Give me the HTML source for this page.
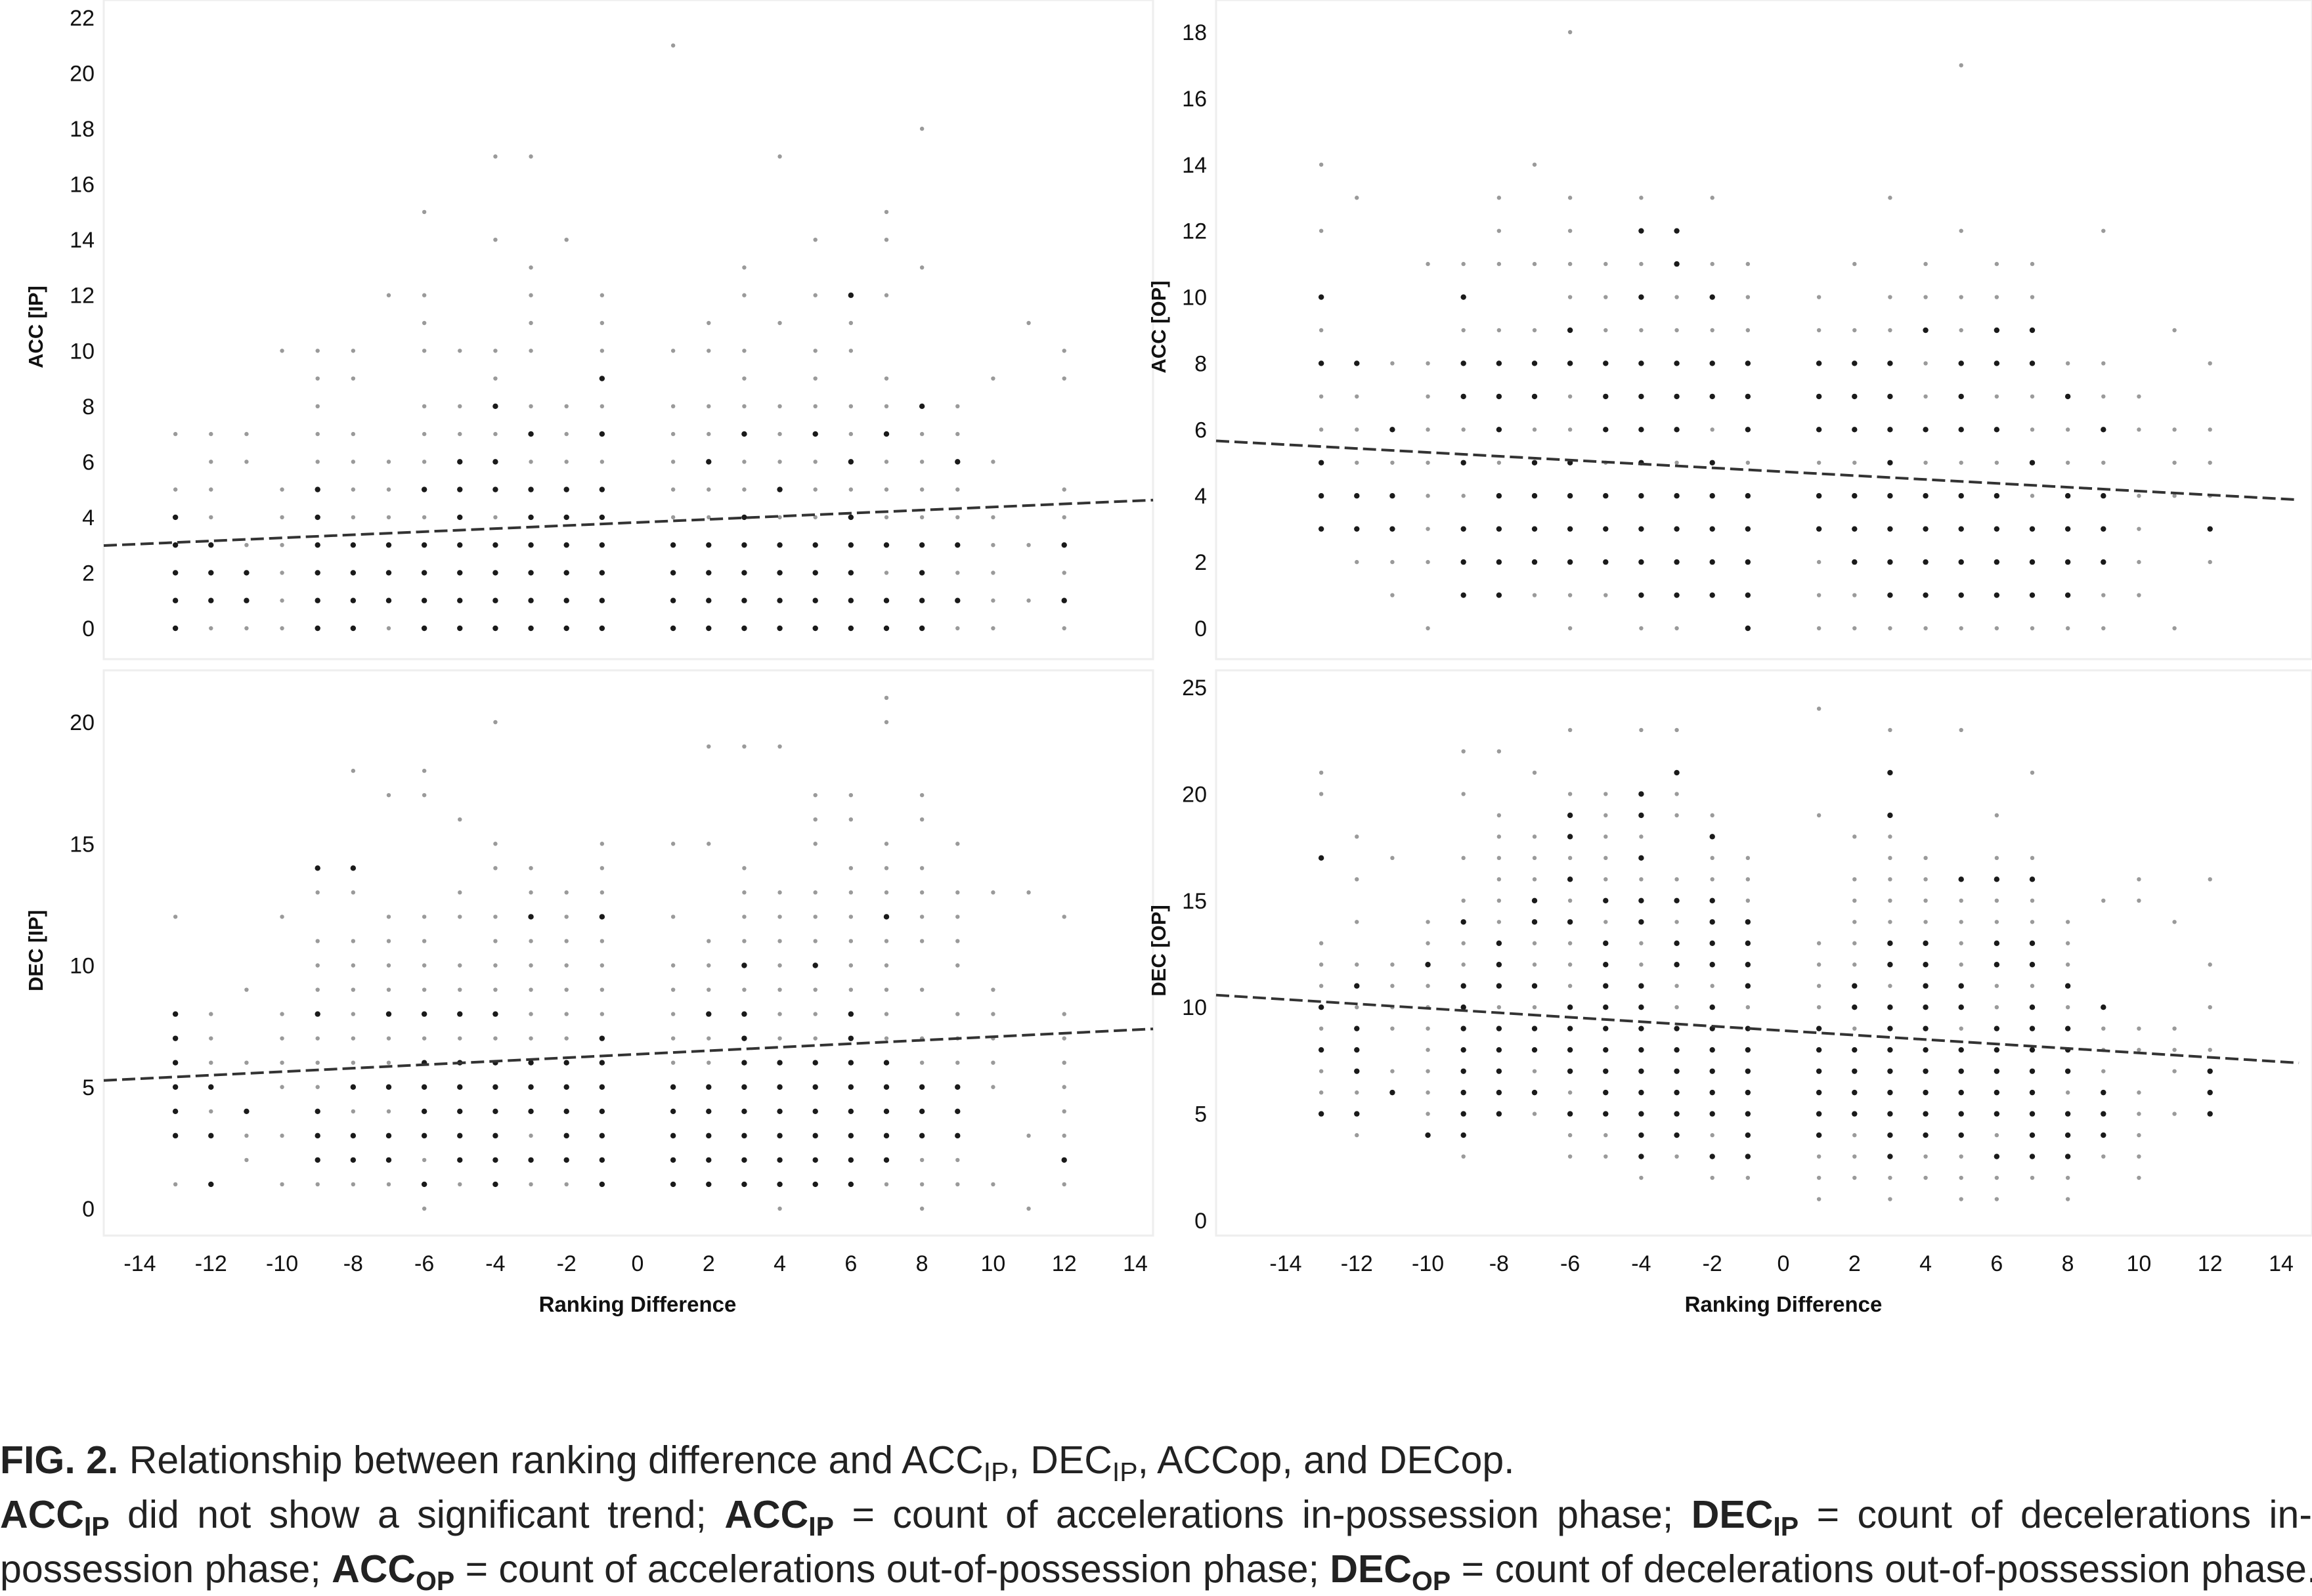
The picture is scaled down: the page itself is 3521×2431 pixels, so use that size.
<!DOCTYPE html>
<html><head><meta charset="utf-8"><style>
html,body{margin:0;padding:0;background:#fff;}
body{width:3521px;height:2428px;position:relative;overflow:hidden;font-family:"Liberation Sans",sans-serif;}
svg{position:absolute;left:0;top:0;}
.cap{position:absolute;left:0;width:3521px;font-size:59px;color:#222;white-space:nowrap;line-height:1;}
.j{text-align:justify;text-align-last:justify;white-space:normal;}
sub{font-size:41px;vertical-align:-12px;line-height:0;}
b{font-weight:bold;}
</style></head><body>
<svg id="chart" width="3521" height="2428" viewBox="0 0 3521 2428"></svg>
<div class="cap" style="top:2195px"><b>FIG. 2.</b> Relationship between ranking difference and ACC<sub>IP</sub>, DEC<sub>IP</sub>, ACCop, and DECop.</div>
<div class="cap j" style="top:2278px"><b>ACC<sub>IP</sub></b> did not show a significant trend; <b>ACC<sub>IP</sub></b> = count of accelerations in-possession phase; <b>DEC<sub>IP</sub></b> = count of decelerations in-</div>
<div class="cap" style="top:2361px;width:auto">possession phase; <b>ACC<sub>OP</sub></b> = count of accelerations out-of-possession phase; <b>DEC<sub>OP</sub></b> = count of decelerations out-of-possession phase.</div>
<script>
// x categories and tick labels
const xTicks = [-14,-12,-10,-8,-6,-4,-2,0,2,4,6,8,10,12,14];
const accIpTicks = [0,2,4,6,8,10,12,14,16,18,20,22];
const decIpTicks = [0,5,10,15,20];
const accOpTicks = [0,2,4,6,8,10,12,14,16,18];
const decOpTicks = [0,5,10,15,20,25];
// trend lines: [value at x=-15, value at x=14.5]
const accIpTrend = [2.98, 4.62];
const decIpTrend = [5.27, 7.39];
const accOpTrend = [5.66, 3.88];
const decOpTrend = [10.57, 7.39];
// points: [ranking difference, dark values, light values]
const accIpPoints = [
[-13,[0,1,2,3,4],[5,7]],[-12,[1,2,3],[0,4,5,6,7]],[-11,[1,2],[0,3,6,7]],[-10,[],[0,1,2,3,4,5,10]],
[-9,[0,1,2,3,4,5],[6,7,8,9,10]],[-8,[0,1,2,3],[4,5,6,7,9,10]],[-7,[1,2,3],[0,4,5,6,12]],
[-6,[0,1,2,3,5],[4,6,7,8,10,11,12,15]],[-5,[0,1,2,3,4,5,6],[7,8,10]],[-4,[0,1,2,3,5,6,8],[4,7,9,10,14,17]],
[-3,[0,1,2,3,4,5,7],[6,8,10,11,12,13,17]],[-2,[0,1,2,3,4,5],[6,7,8,14]],[-1,[0,1,2,3,4,5,7,9],[6,8,10,11,12]],
[1,[0,1,2,3],[4,5,6,7,8,10,21]],[2,[0,1,2,3,6],[4,5,7,8,10,11]],[3,[0,1,2,3,4,7],[5,6,8,9,10,12,13]],
[4,[0,1,2,3,5],[4,6,7,8,11,17]],[5,[0,1,2,3,7],[4,5,6,8,9,10,12,14]],[6,[0,1,2,3,4,6,12],[5,7,8,10,11]],
[7,[0,1,3,7],[2,4,5,6,8,9,12,14,15]],[8,[0,1,2,3,8],[4,5,6,7,13,18]],[9,[1,3,6],[0,2,4,5,7,8]],
[10,[],[0,1,2,3,4,6,9]],[11,[],[1,3,11]],[12,[1,3],[0,2,4,5,9,10]]];
const decIpPoints = [
[-13,[3,4,5,6,7,8],[1,12]],[-12,[1,3,5],[4,6,7,8]],[-11,[4],[2,3,6,9]],[-10,[],[1,3,5,6,7,8,12]],
[-9,[2,3,4,8,14],[1,5,6,7,9,10,11,13]],[-8,[2,3,5,14],[1,4,6,7,8,9,10,11,13,18]],[-7,[2,3,5,8],[1,4,6,7,9,10,11,12,17]],
[-6,[1,3,4,5,6,8],[0,2,7,9,10,11,12,17,18]],[-5,[2,3,4,5,6,8],[1,7,9,10,12,13,16]],[-4,[1,2,3,4,5,6,8],[7,9,10,11,12,14,15,20]],
[-3,[2,4,5,6,12],[1,3,7,8,9,10,11,13,14]],[-2,[2,3,4,5,6],[1,7,8,9,10,11,12,13]],[-1,[1,2,3,4,5,6,7,12],[8,9,10,11,13,14,15]],
[1,[1,2,3,4,5],[6,7,8,9,10,12,15]],[2,[1,2,3,4,5,8],[6,7,9,10,11,15,19]],[3,[1,2,3,4,5,6,7,8,10],[9,11,12,13,14,19]],
[4,[1,2,3,4,5,6],[0,7,8,9,10,11,12,13,19]],[5,[1,2,3,4,5,6,10],[7,8,9,11,12,13,15,16,17]],[6,[1,2,3,4,5,6,7,8],[9,10,11,12,13,14,16,17]],
[7,[2,3,4,5,6,12],[1,7,8,9,10,11,13,14,15,20,21]],[8,[3,4,5],[0,1,2,6,7,9,11,12,13,14,16,17]],[9,[3,4,5],[1,2,6,7,8,10,11,12,13,15]],
[10,[],[1,5,6,7,8,9,13]],[11,[],[0,3,13]],[12,[2],[1,3,4,5,6,7,8,12]]];
const accOpPoints = [
[-13,[3,4,5,8,10],[6,7,9,12,14]],[-12,[3,4,8],[2,5,6,7,13]],[-11,[3,4,6],[1,2,5,8]],[-10,[],[0,2,3,4,5,6,7,8,11]],
[-9,[1,2,3,5,7,8,10],[4,6,9,11]],[-8,[1,2,3,4,6,7,8],[5,9,11,12,13]],[-7,[2,3,4,5,7,8],[1,6,9,11,14]],
[-6,[2,3,4,5,8,9],[0,1,6,7,10,11,12,13,18]],[-5,[2,3,4,6,7,8],[1,5,9,10,11]],[-4,[1,2,3,4,5,6,7,8,10,12],[0,9,11,13]],
[-3,[1,2,3,4,6,7,8,11,12],[0,5,9,10]],[-2,[1,2,3,4,5,7,8,10],[6,9,11,13]],[-1,[0,1,2,3,4,6,7,8],[5,9,10,11]],
[1,[3,4,6,7,8],[0,1,2,5,9,10]],[2,[2,3,4,6,7,8],[0,1,5,9,11]],[3,[1,2,3,4,5,6,7,8],[0,9,10,13]],
[4,[1,2,3,4,6,9],[0,5,7,8,10,11]],[5,[1,2,3,4,6,7,8],[0,5,9,10,12,17]],[6,[1,2,3,4,6,8,9],[0,5,7,10,11]],
[7,[1,2,3,5,8,9],[0,4,6,7,10,11]],[8,[1,2,3,4,7],[0,5,6,8]],[9,[2,3,4,6],[0,1,5,7,8,12]],
[10,[],[1,2,3,4,6,7]],[11,[],[0,4,5,6,9]],[12,[3],[2,4,5,6,8]]];
const decOpPoints = [
[-13,[5,8,10,17],[6,7,9,11,12,13,20,21]],[-12,[5,7,8,9,11],[4,6,10,12,14,16,18]],[-11,[6],[7,9,10,11,12,17]],
[-10,[4,12],[5,6,7,8,9,10,11,13,14]],[-9,[4,5,6,7,8,9,10,11,14],[3,12,13,15,17,20,22]],
[-8,[5,6,7,8,9,11,12,13],[10,14,15,16,17,18,19,22]],[-7,[6,8,9,11,14,15],[5,7,10,12,13,16,17,18,21]],
[-6,[5,7,8,9,10,14,16,18,19],[3,4,6,11,12,13,15,17,20,23]],[-5,[5,6,7,8,9,10,11,12,13,15],[3,4,14,16,17,18,19,20]],
[-4,[3,4,5,6,7,8,9,10,11,14,15,17,19,20],[2,12,13,16,18,23]],[-3,[4,5,6,7,8,9,12,13,15,21],[3,10,11,14,16,19,20,23]],
[-2,[3,5,6,7,8,9,10,12,13,14,15,18],[2,4,11,16,17,19]],[-1,[3,4,5,6,7,8,9,11,12,13,14],[2,10,15,16,17]],
[1,[4,5,6,7,8,9],[1,2,3,10,11,12,13,19,24]],[2,[5,6,7,8,10,11],[2,3,4,9,12,13,14,15,16,18]],
[3,[3,4,5,6,7,8,9,10,12,13,19,21],[1,2,11,14,15,16,17,18,23]],[4,[4,5,6,7,8,9,10,11,12,13],[2,3,14,15,16,17]],
[5,[4,5,6,7,8,10,11,16],[1,2,3,9,12,13,14,15,23]],[6,[3,5,6,7,8,9,12,13,16],[1,2,4,10,11,14,15,17,19]],
[7,[3,4,5,6,7,8,9,10,12,13,16],[2,11,14,15,17,21]],[8,[3,4,5,7,8,9,11],[1,2,6,10,12,13,14]],
[9,[4,5,6,10],[3,7,8,9,15]],[10,[],[2,3,4,5,6,8,9,15,16]],[11,[],[5,7,8,9,14]],[12,[5,6,7],[8,10,12,16]]];

const NS='http://www.w3.org/2000/svg';
const svg=document.getElementById('chart');
function mk(tag,attrs,parent){const e=document.createElementNS(NS,tag);for(const k in attrs)e.setAttribute(k,attrs[k]);(parent||svg).appendChild(e);return e;}

const panels=[
 {key:'acc-ip',title:'ACC [IP]',box:[158,0,1756,1004],x0:213,x1:1729,y0:957,vTop:22,yTop:27,ticks:accIpTicks,trend:accIpTrend,pts:accIpPoints,titleX:65,titleY:498},
 {key:'dec-ip',title:'DEC [IP]',box:[158,1021,1756,1882],x0:213,x1:1729,y0:1841,vTop:20,yTop:1100,ticks:decIpTicks,trend:decIpTrend,pts:decIpPoints,titleX:65,titleY:1448,xaxis:true},
 {key:'acc-op',title:'ACC [OP]',box:[1852,0,3521,1004],x0:1958,x1:3474,y0:957,vTop:18,yTop:49,ticks:accOpTicks,trend:accOpTrend,pts:accOpPoints,titleX:1775,titleY:498},
 {key:'dec-op',title:'DEC [OP]',box:[1852,1021,3521,1882],x0:1958,x1:3474,y0:1859,vTop:25,yTop:1047,ticks:decOpTicks,trend:decOpTrend,pts:decOpPoints,titleX:1775,titleY:1448,xaxis:true}
];
panels.forEach(p=>{
  const g=mk('g',{});
  
  
  const X=v=>p.x0+(v+14)*(p.x1-p.x0)/28;
  const Y=v=>p.y0-v*(p.y0-p.yTop)/p.vTop;
  const b=p.box;
  const fr=mk('rect',{x:b[0],y:b[1],width:b[2]-b[0],height:b[3]-b[1],fill:'none',stroke:'#eeeeee','stroke-width':3},g);
  
  
  p.ticks.forEach(t=>{
    const tl=mk('text',{x:b[0]-14,y:Y(t)+12,'text-anchor':'end','font-size':34,fill:'#111','font-family':'Liberation Sans, sans-serif'},g);
    tl.textContent=t;
    
    
  });
  const at=mk('text',{x:p.titleX,y:p.titleY,'text-anchor':'middle','font-size':31,'font-weight':'bold',fill:'#111',transform:`rotate(-90 ${p.titleX} ${p.titleY})`},g);
  at.textContent=p.title;
  
  
  p.pts.forEach(col=>{
    col[2].forEach(v=>{
      const c=mk('circle',{cx:X(col[0]),cy:Y(v),r:3.2,fill:'#9a9a9a'},g);
      
      
    });
    col[1].forEach(v=>{
      const c=mk('circle',{cx:X(col[0]),cy:Y(v),r:4.2,fill:'#1a1a1a'},g);
      
      
    });
  });
  const ln=mk('line',{x1:b[0],y1:Y(p.trend[0]),x2:X(14.5),y2:Y(p.trend[1]),stroke:'#333','stroke-width':4,'stroke-dasharray':'20 8'},g);
  
  
  if(p.xaxis){
    xTicks.forEach(t=>{
      const xl=mk('text',{x:X(t),y:1936,'text-anchor':'middle','font-size':34,fill:'#111'},g);
      xl.textContent=t;
      
      
    });
    const xt=mk('text',{x:(p.x0+p.x1)/2,y:1998,'text-anchor':'middle','font-size':33,'font-weight':'bold',fill:'#111'},g);
    xt.textContent='Ranking Difference';
    
    
  }
});
</script>
</body></html>
